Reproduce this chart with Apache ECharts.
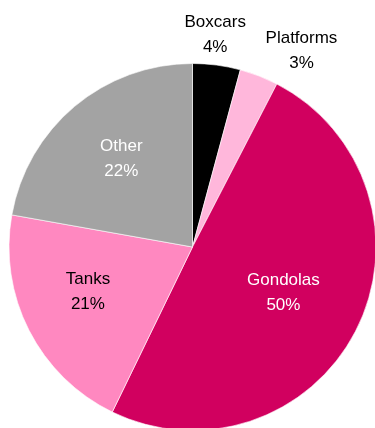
<!DOCTYPE html>
<html>
<head>
<meta charset="utf-8">
<script src="https://cdn.jsdelivr.net/npm/echarts@6/dist/echarts.min.js"></script>
<style>
html,body{margin:0;padding:0;background:#fff;}
#chart{width:375px;height:428px;}
</style>
</head>
<body>
<div id="chart"></div>
<script>
// Data (shares in %; labels show rounded values)
var categories = ['Boxcars', 'Platforms', 'Gondolas', 'Tanks', 'Other'];
var values = [4.2, 3.4, 49.6, 20.6, 22.2];
var colors = ['#000000', '#FFB7DB', '#D1005F', '#FF88C0', '#A3A3A3'];
var labelColors = ['#000000', '#000000', '#FFFFFF', '#000000', '#FFFFFF'];
var outsideLabels = ['Boxcars', 'Platforms'];

var FONT = 'Liberation Sans, Arial, sans-serif';
var center = [192.5, 247];
var R = 183.5;

function labelText(p) { return p.name + '\n' + Math.round(p.value) + '%'; }

var mainData = categories.map(function (c, i) {
  return { name: c, value: values[i], itemStyle: { color: colors[i] } };
});

var insideData = categories.map(function (c, i) {
  var show = outsideLabels.indexOf(c) < 0;
  var off = { 'Gondolas': [-11, -5], 'Tanks': [-3, -7], 'Other': [2, -1] }[c] || [0, 0];
  return { name: c, value: values[i],
    label: { show: show, color: labelColors[i], offset: off } };
});

var outsideData = categories.map(function (c, i) {
  var show = outsideLabels.indexOf(c) >= 0;
  var off = { 'Boxcars': [-6, 4], 'Platforms': [30, 7] }[c] || [0, 0];
  return { name: c, value: values[i],
    label: { show: show, color: labelColors[i], offset: off } };
});

var labelStyle = {
  position: 'inside', formatter: labelText,
  fontFamily: FONT, fontSize: 17, lineHeight: 25, align: 'center'
};

var chart = echarts.init(document.getElementById('chart'), null, { renderer: 'canvas' });
chart.setOption({
  animation: false,
  backgroundColor: '#ffffff',
  series: [
    {
      type: 'pie', center: center, radius: [0, R],
      startAngle: 90, clockwise: true,
      silent: true,
      label: { show: false }, labelLine: { show: false },
      itemStyle: { borderColor: '#ffffff', borderWidth: 0.6 },
      emphasis: { disabled: true },
      data: mainData
    },
    {
      type: 'pie', center: center, radius: [0, 222],
      startAngle: 90, clockwise: true, silent: true,
      itemStyle: { color: 'rgba(0,0,0,0)' },
      labelLine: { show: false },
      label: labelStyle,
      emphasis: { disabled: true },
      data: insideData
    },
    {
      type: 'pie', center: center, radius: [0, 430],
      startAngle: 90, clockwise: true, silent: true,
      itemStyle: { color: 'rgba(0,0,0,0)' },
      labelLine: { show: false },
      label: labelStyle,
      emphasis: { disabled: true },
      data: outsideData
    }
  ]
});
</script>
</body>
</html>
